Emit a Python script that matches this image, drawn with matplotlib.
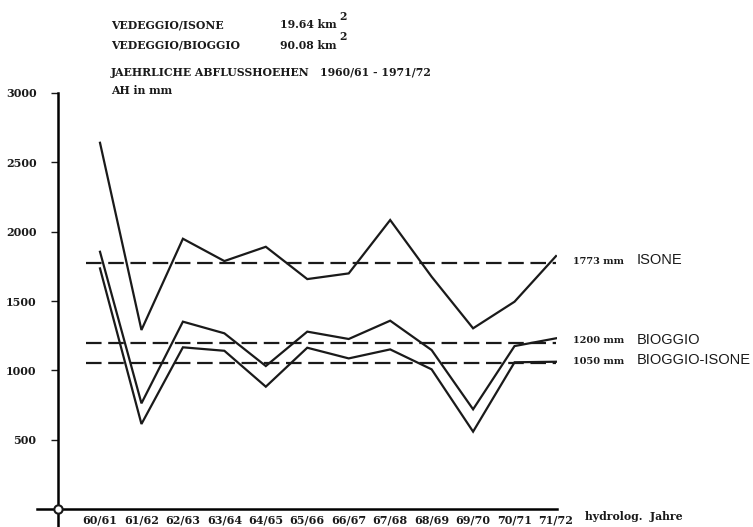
import matplotlib.pyplot as plt

# -----------------------------
# Daten
# -----------------------------
jahre = ["60/61", "61/62", "62/63", "63/64", "64/65", "65/66",
         "66/67", "67/68", "68/69", "69/70", "70/71", "71/72"]
isone = [2641, 1291, 1949, 1788, 1891, 1658, 1699, 2084, 1675, 1303, 1495, 1824]
bioggio = [1855, 762, 1351, 1267, 1031, 1279, 1226, 1358, 1146, 719, 1175, 1231]
bioggio_isone = [1735, 613, 1166, 1141, 882, 1163, 1086, 1151, 1007, 558, 1058, 1062]
mittel = [1773, 1200, 1050]
mittel_namen = ["ISONE", "BIOGGIO", "BIOGGIO-ISONE"]
yticks = [500, 1000, 1500, 2000, 2500, 3000]

W, H = 753, 527
serif = "DejaVu Serif"
sans = "Liberation Sans"

fig = plt.figure(figsize=(W / 100, H / 100), dpi=100)
# Achsen: linke Kante px 58, rechte px 557, unten px 509, oben px 93
ax = fig.add_axes([58 / W, (H - 509) / H, (557 - 58) / W, (509 - 93) / H])
px = 11 / (556 - 100)
ax.set_xlim(-(100 - 58) * px, 11 + 1 * px)
ax.set_ylim(0, 3000)

x = list(range(len(jahre)))
for serie in (isone, bioggio, bioggio_isone):
    ax.plot(x, serie, color="#1a1a1a", lw=1.6, solid_joinstyle="miter")

for m in mittel:
    ax.hlines(m, -(100 - 86) * px, 11, colors="#1a1a1a", lw=1.6,
              linestyles=(0, (7, 3)))

# -----------------------------
# Achsen
# -----------------------------
for s in ("top", "right"):
    ax.spines[s].set_visible(False)
ax.spines["left"].set_linewidth(1.8)
ax.spines["bottom"].set_linewidth(1.8)
ax.spines["left"].set_bounds(-130, 3000)
ax.spines["bottom"].set_bounds(-(100 - 37) * px, 11 + 1 * px)
ax.plot([ax.get_xlim()[0]], [0], "o", ms=6, mfc="white", mec="#1a1a1a",
        mew=1.5, clip_on=False, zorder=5)

ax.set_yticks(yticks)
ax.set_yticklabels([str(v) for v in yticks], fontfamily=serif,
                   fontweight="heavy", fontsize=8)
ax.tick_params(axis="y", length=5, width=1, pad=10.5, colors="#1a1a1a")
ax.set_xticks(x)
ax.set_xticklabels(jahre, fontfamily=serif, fontweight="bold", fontsize=8)
ax.tick_params(axis="x", length=0, pad=4, colors="#1a1a1a")

# -----------------------------
# Beschriftungen
# -----------------------------
def ftext(xp, yp, s, **kw):
    fig.text(xp / W, 1 - yp / H, s, va="center", ha="left", color="#1a1a1a", **kw)

tkw = dict(fontfamily=serif, fontweight="bold", fontsize=7.8)
ftext(111, 25, "VEDEGGIO/ISONE", **tkw)
ftext(280, 25, "19.64 km", **tkw)
ftext(339, 17, "2", **tkw)
ftext(111, 45, "VEDEGGIO/BIOGGIO", **tkw)
ftext(280, 45, "90.08 km", **tkw)
ftext(339, 37, "2", **tkw)
ftext(111, 73, "JAEHRLICHE ABFLUSSHOEHEN   1960/61 - 1971/72", **tkw)
ftext(111, 91, "AH in mm", **tkw)
ftext(585, 517, "hydrolog.  Jahre", **tkw)

for m, name in zip(mittel, mittel_namen):
    ax.annotate(f"{m} mm", xy=(11, m), xytext=(17, 2), textcoords="offset pixels",
                va="center", ha="left", fontfamily=serif, fontweight="bold",
                fontsize=7, color="#1a1a1a", annotation_clip=False)
    ax.annotate(name, xy=(11, m), xytext=(81, 3), textcoords="offset pixels",
                va="center", ha="left", fontfamily=sans, fontsize=10.5,
                color="#1a1a1a", annotation_clip=False)

fig.savefig("out.png", dpi=100)
